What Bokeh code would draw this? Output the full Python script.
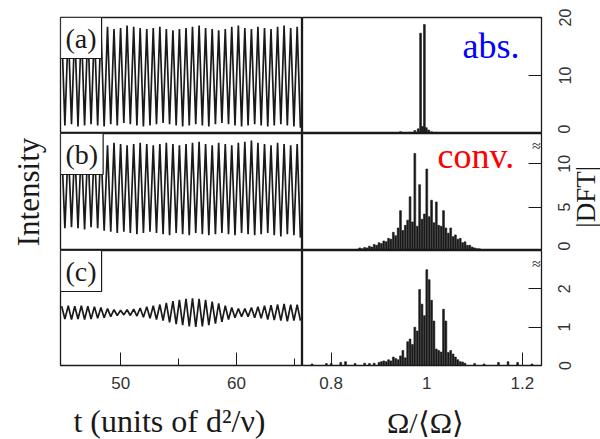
import math
from bokeh.plotting import figure
from bokeh.layouts import column, row
from bokeh.models import Range1d, FixedTicker, Label
from bokeh.core.properties import value
from bokeh.embed import file_html
from bokeh.resources import INLINE

# ---------------- data ----------------
t_peak = [44.90, 45.47, 46.03, 46.60, 47.16, 47.73, 48.29, 48.86, 49.42, 49.99,
          50.55, 51.12, 51.68, 52.25, 52.81, 53.38, 53.94, 54.51, 55.07, 55.64,
          56.20, 56.77, 57.33, 57.90, 58.46, 59.03, 59.59, 60.16, 60.72, 61.29,
          61.85, 62.42, 62.98, 63.55, 64.11, 64.68, 65.24]
t_trough = [45.18, 45.75, 46.31, 46.88, 47.44, 48.01, 48.57, 49.14, 49.70, 50.27,
            50.83, 51.40, 51.96, 52.53, 53.09, 53.66, 54.22, 54.79, 55.35, 55.92,
            56.48, 57.05, 57.61, 58.18, 58.74, 59.31, 59.87, 60.44, 61.00, 61.57,
            62.13, 62.70, 63.26, 63.83, 64.39, 64.96, 65.52]

peaks_a = [0.90, 0.91, 0.90, 0.92, 0.91, 0.90, 0.91, 0.92, 0.90, 0.91, 0.93, 0.92,
           0.91, 0.90, 0.91, 0.92, 0.90, 0.89, 0.90, 0.91, 0.92, 0.93, 0.91, 0.90,
           0.89, 0.90, 0.92, 0.93, 0.91, 0.90, 0.92, 0.91, 0.90, 0.92, 0.93, 0.91, 0.92]
troughs_a = [0.07, 0.08, 0.06, 0.07, 0.08, 0.07, 0.06, 0.08, 0.07, 0.09, 0.08, 0.07,
             0.06, 0.07, 0.08, 0.09, 0.08, 0.07, 0.06, 0.07, 0.08, 0.07, 0.06, 0.08,
             0.09, 0.08, 0.07, 0.06, 0.07, 0.08, 0.07, 0.06, 0.07, 0.08, 0.07, 0.06, 0.05]

peaks_b = [0.88, 0.89, 0.88, 0.90, 0.89, 0.90, 0.91, 0.90, 0.92, 0.91, 0.90, 0.91,
           0.92, 0.91, 0.90, 0.91, 0.92, 0.91, 0.90, 0.91, 0.92, 0.93, 0.91, 0.90,
           0.92, 0.91, 0.90, 0.92, 0.93, 0.94, 0.92, 0.91, 0.90, 0.92, 0.91, 0.90, 0.91]
troughs_b = [0.19, 0.20, 0.19, 0.18, 0.20, 0.19, 0.17, 0.16, 0.15, 0.16, 0.15, 0.14,
             0.15, 0.16, 0.15, 0.14, 0.13, 0.15, 0.14, 0.13, 0.15, 0.14, 0.13, 0.14,
             0.15, 0.14, 0.13, 0.15, 0.14, 0.13, 0.14, 0.15, 0.13, 0.12, 0.14, 0.13, 0.11]

peaks_c = [0.515, 0.52, 0.515, 0.52, 0.515, 0.51, 0.505, 0.495, 0.485, 0.48, 0.485,
           0.49, 0.50, 0.51, 0.52, 0.53, 0.545, 0.56, 0.57, 0.58, 0.585, 0.58, 0.57,
           0.555, 0.54, 0.52, 0.505, 0.495, 0.495, 0.505, 0.51, 0.52, 0.525, 0.53,
           0.535, 0.53, 0.53]
troughs_c = [0.405, 0.40, 0.405, 0.40, 0.405, 0.41, 0.415, 0.425, 0.435, 0.44, 0.435,
             0.43, 0.42, 0.41, 0.40, 0.39, 0.375, 0.36, 0.35, 0.34, 0.335, 0.34, 0.35,
             0.365, 0.38, 0.40, 0.415, 0.425, 0.425, 0.415, 0.41, 0.40, 0.395, 0.39,
             0.385, 0.39, 0.39]

freq_a = [0.945, 0.965, 0.975, 0.982, 0.987, 0.991, 0.995, 0.999, 1.004, 1.010, 1.020]
dft_a = [0.3, 0.2, 0.5, 0.8, 17.3, 1.2, 18.8, 1.0, 0.6, 0.3, 0.2]

freq_b = [0.850, 0.855, 0.860, 0.865, 0.870, 0.875, 0.880, 0.885, 0.890, 0.895,
          0.900, 0.905, 0.910, 0.915, 0.920, 0.925, 0.930, 0.935, 0.940, 0.945,
          0.950, 0.955, 0.960, 0.965, 0.970, 0.975, 0.980, 0.985, 0.990, 0.995,
          1.000, 1.005, 1.010, 1.015, 1.020, 1.025, 1.030, 1.035, 1.040, 1.045,
          1.050, 1.055, 1.060, 1.065, 1.070, 1.075, 1.080, 1.085, 1.090, 1.095,
          1.100, 1.105, 1.110]
dft_b = [0.1, 0.15, 0.3, 0.2, 0.35, 0.3, 0.5, 0.4, 0.7, 0.6,
         0.9, 0.8, 1.1, 1.0, 1.4, 1.3, 2.1, 1.7, 2.6, 4.6,
         2.3, 2.9, 3.5, 6.2, 3.3, 11.2, 2.8, 7.6, 3.6, 4.2,
         9.4, 3.9, 5.8, 3.2, 5.6, 2.9, 2.8, 4.6, 2.6, 2.0,
         2.6, 1.6, 1.8, 1.3, 1.4, 0.9, 1.0, 0.6, 0.6, 0.4,
         0.3, 0.2, 0.2]

freq_c = [0.760, 0.790, 0.800, 0.820, 0.830, 0.850, 0.870, 0.880, 0.890, 0.900,
          0.905, 0.910, 0.915, 0.920, 0.925, 0.930, 0.935, 0.940, 0.945, 0.950,
          0.955, 0.960, 0.965, 0.970, 0.975, 0.980, 0.985, 0.990, 0.995, 1.000,
          1.005, 1.010, 1.015, 1.020, 1.025, 1.030, 1.035, 1.040, 1.045, 1.050,
          1.055, 1.060, 1.065, 1.070, 1.075, 1.080, 1.100, 1.120, 1.150, 1.170,
          1.190, 1.220]
dft_c = [0.04, 0.05, 0.05, 0.08, 0.10, 0.05, 0.06, 0.05, 0.06, 0.08,
         0.10, 0.12, 0.10, 0.15, 0.12, 0.22, 0.18, 0.15, 0.25, 0.39,
         0.20, 0.62, 0.69, 0.55, 1.00, 0.90, 1.98, 1.60, 1.30, 2.50,
         2.24, 1.70, 1.16, 0.43, 0.39, 0.35, 1.47, 1.16, 0.34, 0.39,
         0.30, 0.22, 0.15, 0.10, 0.09, 0.06, 0.05, 0.04, 0.08, 0.10,
         0.08, 0.04]

t_ticks = [50, 60]
t_minor = [55, 65]
w_ticks = [0.8, 1.0, 1.2]
yticks_a = [0, 10, 20]
yticks_b = [0, 5, 10]
yticks_c = [0, 1, 2]

# ---------------- helpers ----------------
SERIF = "Liberation Serif"
SANS = "Liberation Sans"
INK = "#1a1a1a"
LABEL_INK = "#333333"

LW, RW, SW = 302, 241, 57          # left panels, right panels, label strips
SL = 27                            # left border of label strips (holds tick labels)
HA, HB, HC = 133, 117, 151
TOP, BB = 17, 36
BLOCK_H = HA + HB + HC
STRIP_H = 439 - BLOCK_H


def interleave(tp, tt, vp, vt):
    xs, ys = [], []
    for a, b, c, d in zip(tp, tt, vp, vt):
        xs += [a, b]
        ys += [c, d]
    return xs, ys


def base(width, height, top, bottom, left, right, xr, yr, yloc="left"):
    p = figure(width=width, height=height, output_backend="svg",
               toolbar_location=None, x_range=xr, y_range=yr,
               y_axis_location=yloc,
               min_border_left=left, min_border_right=right,
               min_border_top=top, min_border_bottom=bottom)
    p.grid.visible = False
    p.outline_line_color = INK
    p.outline_line_width = 1.3
    p.background_fill_color = "white"
    p.border_fill_color = "white"
    return p


def style_bottom_axis(ax, ticks, minor):
    ax.ticker = FixedTicker(ticks=ticks, minor_ticks=minor)
    ax.major_tick_in = 13
    ax.major_tick_out = 0
    ax.minor_tick_in = 7
    ax.minor_tick_out = 0
    ax.axis_line_color = INK
    ax.major_tick_line_color = INK
    ax.minor_tick_line_color = INK
    ax.major_label_text_font = SANS
    ax.major_label_text_font_size = "17px"
    ax.major_label_text_color = LABEL_INK
    ax.major_label_standoff = 11


def left_panel(height, top, bottom, tp, tt, vp, vt, tag, frame_h):
    p = base(LW, height, top, bottom, 60, 0, Range1d(44.8, 65.7), Range1d(0, 1))
    xs, ys = interleave(tp, tt, vp, vt)
    p.line(xs, ys, line_color=INK, line_width=1.7)
    p.add_layout(Label(x=0, y=frame_h, x_units="screen", y_units="screen",
                       text=tag, text_font=SERIF, text_font_size="28px",
                       text_color=INK, text_align="left", text_baseline="top",
                       border_line_color=INK, border_line_width=1.2,
                       background_fill_color="white", padding=5))
    return p


def right_panel(height, top, bottom, freq, dft, ymax, yticks):
    p = base(RW, height, top, bottom, 0, 2, Range1d(0.74, 1.24),
             Range1d(0, ymax), yloc="right")
    p.vbar(x=freq, top=dft, width=0.0038, fill_color=INK, line_color=INK,
           line_width=0.6)
    ax = p.yaxis[0]
    ax.ticker = FixedTicker(ticks=yticks, minor_ticks=[])
    ax.major_tick_in = 13
    ax.major_tick_out = 0
    ax.minor_tick_line_color = None
    ax.axis_line_color = INK
    ax.major_tick_line_color = INK
    # tick marks only here; the labels are drawn by the strip to the right
    ax.major_label_overrides = {v: "" for v in yticks}
    ax.major_label_text_font_size = "1px"
    ax.major_label_standoff = 0
    return p


def label_strip(height, top, bottom, yr, yticks):
    # narrow figure sharing the spectrum's y range; its left axis carries the
    # (bottom-to-top) tick labels of the spectrum panel
    s = figure(width=SW, height=height, output_backend="svg",
               toolbar_location=None, x_range=Range1d(0, SW - SL), y_range=yr,
               min_border_left=SL, min_border_right=0,
               min_border_top=top, min_border_bottom=bottom)
    s.xaxis.visible = False
    s.grid.visible = False
    s.outline_line_color = None
    s.background_fill_color = "white"
    s.border_fill_color = "white"
    ax = s.yaxis[0]
    ax.ticker = FixedTicker(ticks=yticks, minor_ticks=[])
    ax.axis_line_color = None
    ax.major_tick_line_color = None
    ax.minor_tick_line_color = None
    ax.major_tick_in = 0
    ax.major_tick_out = 0
    ax.major_label_orientation = "vertical"
    ax.major_label_text_font = SANS
    ax.major_label_text_font_size = "16px"
    ax.major_label_text_color = LABEL_INK
    ax.major_label_standoff = 0
    return s


def text_strip(width, height):
    f = figure(width=width, height=height, output_backend="svg",
               toolbar_location=None, x_range=Range1d(0, width),
               y_range=Range1d(0, height), min_border=0)
    f.axis.visible = False
    f.grid.visible = False
    f.outline_line_color = None
    f.background_fill_color = "white"
    f.border_fill_color = "white"
    return f


# ---------------- panels ----------------
pa = left_panel(HA, TOP, 0, t_peak, t_trough, peaks_a, troughs_a, "(a)", HA - TOP)
pb = left_panel(HB, 0, 0, t_peak, t_trough, peaks_b, troughs_b, "(b)", HB)
pc = left_panel(HC, 0, BB, t_peak, t_trough, peaks_c, troughs_c, "(c)", HC - BB)

for p in (pa, pc):
    p.yaxis.visible = False
for p in (pa, pb):
    p.xaxis.visible = False

# "Intensity" label through the left axis of panel (b)
ya = pb.yaxis[0]
ya.ticker = FixedTicker(ticks=[])
ya.axis_line_color = None
ya.major_tick_line_color = None
ya.minor_tick_line_color = None
ya.major_label_standoff = 0
ya.axis_label = "Intensity"
ya.axis_label_text_font = SERIF
ya.axis_label_text_font_size = "31px"
ya.axis_label_text_font_style = "normal"
ya.axis_label_text_color = INK
ya.axis_label_standoff = 15

style_bottom_axis(pc.xaxis[0], t_ticks, t_minor)

qa = right_panel(HA, TOP, 0, freq_a, dft_a, 20, yticks_a)
qb = right_panel(HB, 0, 0, freq_b, dft_b, 13.5, yticks_b)
qc = right_panel(HC, 0, BB, freq_c, dft_c, 3, yticks_c)
for p in (qa, qb):
    p.xaxis.visible = False
style_bottom_axis(qc.xaxis[0], w_ticks, [])

sa = label_strip(HA, TOP, 0, qa.y_range, yticks_a)
sb = label_strip(HB, 0, 0, qb.y_range, yticks_b)
sc = label_strip(HC, 0, BB, qc.y_range, yticks_c)

qa.add_layout(Label(x=160, y=88, x_units="screen", y_units="screen", text="abs.",
                    text_font=SERIF, text_font_size="36px", text_color="#0000ff",
                    text_align="left", text_baseline="alphabetic"))
qb.add_layout(Label(x=135, y=95, x_units="screen", y_units="screen", text="conv.",
                    text_font=SERIF, text_font_size="36px", text_color="#ff0000",
                    text_align="left", text_baseline="alphabetic"))
qb.add_layout(Label(x=234, y=HB - 12, x_units="screen", y_units="screen", text="\u2248",
                    text_font=SERIF, text_font_size="16px", text_color=INK,
                    text_align="center", text_baseline="middle"))
qc.add_layout(Label(x=234, y=HC - BB - 13, x_units="screen", y_units="screen",
                    text="\u2248", text_font=SERIF, text_font_size="16px",
                    text_color=INK, text_align="center", text_baseline="middle"))

# |DFT| title at the right edge
sb.text(x=[15], y=[6.2], text=["|DFT|"], angle=math.pi / 2,
        text_font=value(SERIF), text_font_size=value("27px"),
        text_color=INK, text_align="center", text_baseline="middle")

# axis-title strip at the bottom
bottom_strip = text_strip(600, STRIP_H)
bottom_strip.text(x=[173], y=[STRIP_H - 1], text=["t  (units of d\u00b2/\u03bd)"],
                  text_font=value(SERIF), text_font_size=value("32px"),
                  text_color=INK, text_align="center", text_baseline="top")
bottom_strip.text(x=[425], y=[STRIP_H - 4], text=["\u03a9/\u27e8\u03a9\u27e9"],
                  text_font=value(SERIF), text_font_size=value("30px"),
                  text_color=INK, text_align="center", text_baseline="top")

layout = column(row(pa, qa, sa), row(pb, qb, sb), row(pc, qc, sc), bottom_strip)
open("out.html", "w").write(file_html(layout, INLINE))
